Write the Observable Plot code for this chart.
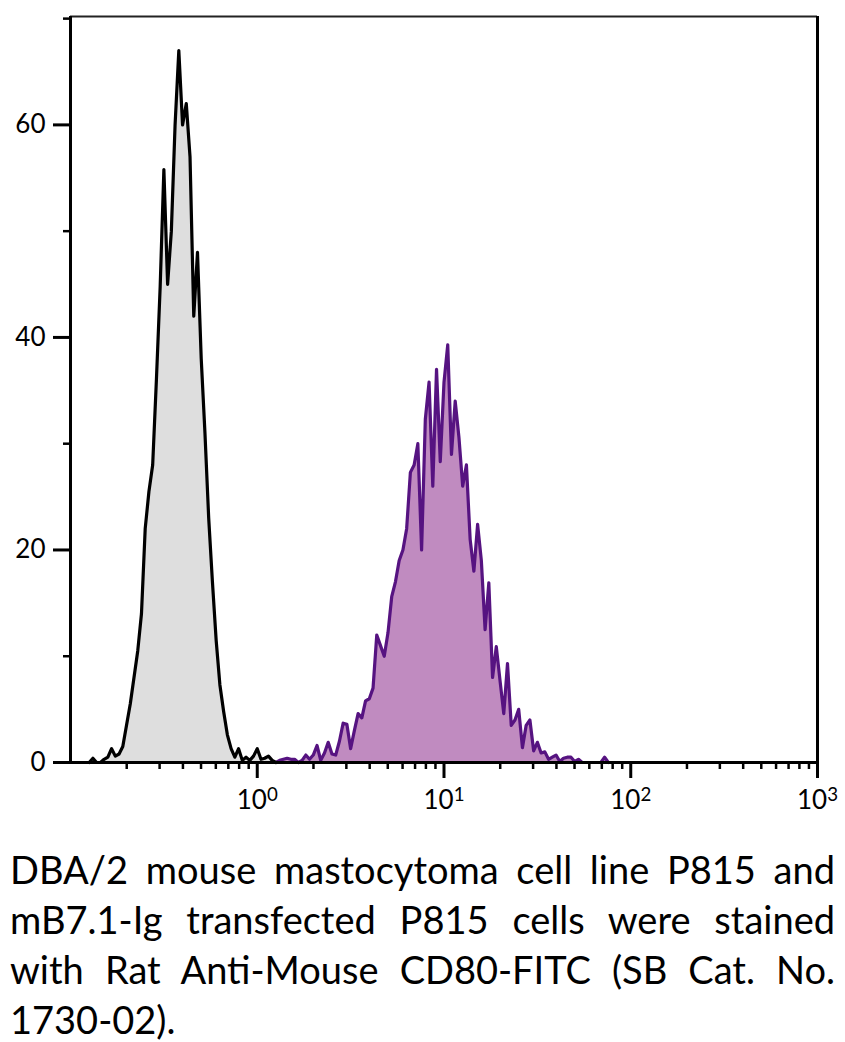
<!DOCTYPE html>
<html><head><meta charset="utf-8">
<script src="https://cdn.jsdelivr.net/npm/d3@7"></script>
<script src="https://cdn.jsdelivr.net/npm/@observablehq/plot@0.6"></script>
<style>
body{margin:0;background:#fff;width:845px;overflow:hidden;}
#chart svg{display:block;}
#caption{font-family:Lato,"Open Sans",sans-serif;font-size:38px;line-height:50px;color:#000;padding:0 10px;margin-top:14px;}
#caption div{text-align:justify;text-align-last:justify;white-space:nowrap;}
#caption div.last{text-align-last:left;}
</style></head><body>
<div id="chart"></div>
<div id="caption"></div>
<script>
// channel grids (log10 of fluorescence) and counts
const channelStep = 0.02;
const grayStartLog = -0.9;
const grayCounts = [0,0.4,0,0,0.3,0.5,1.3,0.6,0.8,1.5,3.5,5.5,8,10.5,14,22,25.5,28,36,44.7,55.8,45,50,60,67,60,62,57,42,48,38,31,23,17,11.5,7.3,4.8,2.6,1.3,0.5,1.3,0.2,0.5,0.2,0.6,1.3,0.3,0.4,0.6,0.2,0];
const purpleStartLog = 0;
const purpleCounts = [0,0,0,0.2,0,0,0.2,0.3,0.4,0.3,0.3,0,0.2,0.7,0.3,0.7,1.6,0.2,0.9,1.9,0.8,0.7,2.0,3.7,3.6,1.3,3,4.6,4.2,5.8,6.0,7,12,11,10,12.2,15.6,17,19,20,22,27.3,28,30,20,32.3,35.8,26,37,28.3,35.8,39.3,29,34,30.6,26,28,21,18,22.4,19,12.5,16.9,8,10.9,7.7,4.6,9.3,3.5,4,5,1.4,3.5,4,1.1,1.9,0.9,1,0.3,0.5,0.7,0.1,0.4,0.5,0.5,0.1,0.3,0,0,0,0,0,0,0.5,0];
const xDomain = [0.1, 1000];
const yDomain = [0, 70.2];
const xMajorTicks = [1, 10, 100, 1000];
const xMinorTicks = [0.2,0.3,0.4,0.5,0.6,0.7,0.8,0.9,2,3,4,5,6,7,8,9,20,30,40,50,60,70,80,90,200,300,400,500,600,700,800,900];
const yMajorTicks = [0, 20, 40, 60];
const yMinorTicks = [10, 30, 50, 70];
const captionLines = [
  "DBA/2 mouse mastocytoma cell line P815 and",
  "mB7.1-Ig transfected P815 cells were stained",
  "with Rat Anti-Mouse CD80-FITC (SB Cat. No.",
  "1730-02)."
];

const gray = grayCounts.map((c, i) => ({x: Math.pow(10, grayStartLog + i * channelStep), count: c}));
const purple = purpleCounts.map((c, i) => ({x: Math.pow(10, purpleStartLog + i * channelStep), count: c}));

const font = "Lato, 'Open Sans', sans-serif";
const plot = Plot.plot({
  width: 845, height: 830,
  marginTop: 16, marginLeft: 70, marginRight: 28, marginBottom: 68,
  style: {fontFamily: font, background: "#fff", color: "#000"},
  x: {type: "log", domain: xDomain, axis: null},
  y: {domain: yDomain, axis: null},
  marks: [
    Plot.areaY(purple, {x: "x", y: "count", fill: "#c08bc0"}),
    Plot.lineY(purple, {x: "x", y: "count", stroke: "#561381", strokeWidth: 3.2, strokeLinejoin: "round"}),
    Plot.areaY(gray, {x: "x", y: "count", fill: "#dedede"}),
    Plot.lineY(gray, {x: "x", y: "count", stroke: "#000", strokeWidth: 3.2, strokeLinejoin: "round"}),
    Plot.ruleY([yDomain[1]], {stroke: "#222", strokeWidth: 2}),
    Plot.ruleX([xDomain[1]], {stroke: "#000", strokeWidth: 3}),
    Plot.ruleX([xDomain[0]], {stroke: "#000", strokeWidth: 3}),
    Plot.ruleY([0], {stroke: "#000", strokeWidth: 3}),
    Plot.axisX(xMinorTicks, {tickSize: 7, strokeWidth: 2.5, tickFormat: () => "", label: null}),
    Plot.axisX(xMajorTicks, {tickSize: 16, strokeWidth: 3, tickPadding: 12, fontSize: 26,
      tickFormat: d => "10^" + Math.round(Math.log10(d)), label: null}),
    Plot.axisY(yMinorTicks, {tickSize: 7, strokeWidth: 2.5, tickFormat: () => "", label: null}),
    Plot.axisY(yMajorTicks, {tickSize: 17, strokeWidth: 3, tickPadding: 8, fontSize: 26, label: null})
  ]
});
document.getElementById("chart").appendChild(plot);

// render exponents as superscripts
d3.select(plot).selectAll("text").each(function() {
  const t = this.textContent;
  if (t.includes("^")) {
    const [base, exp] = t.split("^");
    const sel = d3.select(this);
    sel.text(base);
    sel.append("tspan").attr("dy", "-0.45em").attr("font-size", "0.72em").text(exp);
  }
});

const cap = d3.select("#caption");
captionLines.forEach((line, i) => {
  cap.append("div").attr("class", i === captionLines.length - 1 ? "last" : null).text(line);
});
</script>
</body></html>
